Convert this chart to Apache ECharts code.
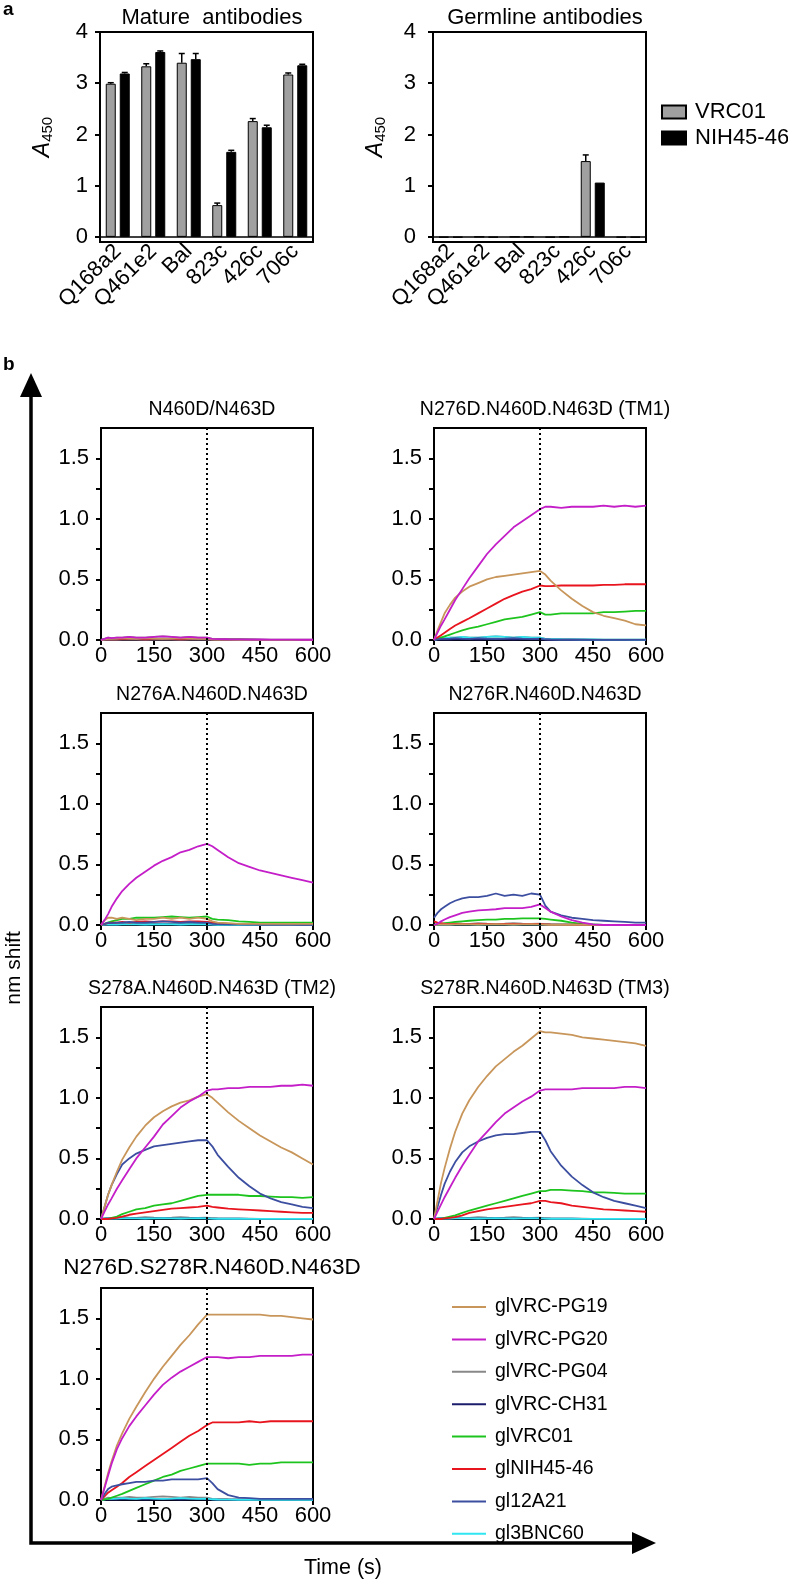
<!DOCTYPE html>
<html>
<head>
<meta charset="utf-8">
<script src="https://cdn.jsdelivr.net/npm/echarts@6/dist/echarts.min.js"></script>
<style>
html,body{margin:0;padding:0;background:#fff}
#chart{width:788px;height:1582px}
</style>
</head>
<body>
<div id="chart"></div>
<script>
// ---- panel a data ----
var SITES = ['Q168a2', 'Q461e2', 'Bal', '823c', '426c', '706c'];
var matureVRC01 = [2.99, 3.33, 3.40, 0.62, 2.26, 3.17];
var matureVRC01Err = [0.02, 0.05, 0.18, 0.04, 0.05, 0.03];
var matureNIH = [3.19, 3.61, 3.47, 1.66, 2.14, 3.35];
var matureNIHErr = [0.02, 0.02, 0.11, 0.03, 0.04, 0.02];
var germVRC01 = [-0.01, 0, 0, -0.01, 1.48, -0.01];
var germVRC01Err = [0, 0, 0, 0, 0.12, 0];
var germNIH = [-0.01, -0.01, 0, 0, 1.06, -0.01];
var germNIHErr = [0, 0, 0, 0, 0.01, 0];
var A_TICKS = [0, 1, 2, 3, 4];

// ---- panel b data ----
var TIMES = [0, 10, 20, 30, 45, 60, 80, 100, 125, 150, 175, 200, 225, 250, 275, 300, 315, 330, 360, 390, 420, 450, 480, 510, 540, 570, 600];
var LINE_NAMES = ['glVRC-PG19', 'glVRC-PG20', 'glVRC-PG04', 'glVRC-CH31', 'glVRC01', 'glNIH45-46', 'gl12A21', 'gl3BNC60'];
var LINE_COLORS = ['#c8965a', '#c41ec8', '#888888', '#1c1c6c', '#1ec41e', '#e8141e', '#3c4ea0', '#30e6f0'];
var PANEL_TITLES = ['N460D/N463D', 'N276D.N460D.N463D (TM1)', 'N276A.N460D.N463D', 'N276R.N460D.N463D',
  'S278A.N460D.N463D (TM2)', 'S278R.N460D.N463D (TM3)', 'N276D.S278R.N460D.N463D'];
var B_Y_LABELS = [0, 0.5, 1.0, 1.5];
var B_Y_TICKS = [0, 0.25, 0.5, 0.75, 1, 1.25, 1.5];

// near-baseline traces
var low1 = [0,0.01,0.02,0.015,0.02,0.02,0.025,0.02,0.02,0.025,0.03,0.025,0.02,0.025,0.02,0.02,0.01,0.008,0.006,0.005,0.004,0.004,0.003,0.003,0.003,0.002,0.002];
var low2 = [0,0.005,0.01,0.01,0.012,0.015,0.012,0.01,0.015,0.012,0.01,0.012,0.015,0.012,0.01,0.012,0.006,0.004,0.003,0.002,0.002,0.001,0.001,0.001,0.001,0.001,0.001];
var low3 = [0,0.003,0.004,0.005,0.004,0.005,0.006,0.005,0.004,0.005,0.006,0.005,0.004,0.005,0.006,0.005,0.003,0.002,0.002,0.002,0.001,0.001,0.001,0.001,0.001,0.001,0.001];

// N460D/N463D
var p1 = [low2, low1, low1, low3, low2, low3, low2, low3];
// TM1
var tm1PG19 = [0,0.08,0.15,0.22,0.29,0.35,0.40,0.44,0.47,0.50,0.52,0.53,0.54,0.55,0.56,0.57,0.54,0.49,0.41,0.34,0.28,0.23,0.20,0.18,0.16,0.13,0.12];
var tm1PG20 = [0,0.06,0.12,0.17,0.25,0.33,0.42,0.51,0.61,0.71,0.79,0.86,0.93,0.98,1.03,1.08,1.10,1.10,1.09,1.10,1.10,1.10,1.11,1.10,1.11,1.10,1.11];
var tm1VRC01 = [0,0.01,0.02,0.03,0.045,0.06,0.08,0.095,0.11,0.13,0.15,0.17,0.18,0.19,0.21,0.23,0.21,0.21,0.22,0.22,0.22,0.22,0.23,0.23,0.235,0.24,0.24];
var tm1NIH = [0,0.02,0.04,0.06,0.09,0.12,0.15,0.18,0.22,0.26,0.30,0.34,0.37,0.40,0.42,0.45,0.445,0.445,0.45,0.45,0.45,0.45,0.455,0.455,0.46,0.46,0.46];
var p2 = [tm1PG19, tm1PG20, low1, low3, tm1VRC01, tm1NIH, low2, low1];
// N276A
var aPG19 = [0,0.04,0.06,0.06,0.05,0.06,0.05,0.04,0.05,0.05,0.06,0.05,0.06,0.05,0.06,0.05,0.03,0.02,0.015,0.01,0.01,0.01,0.01,0.01,0.01,0.01,0.01];
var aPG20 = [0,0.04,0.09,0.15,0.22,0.28,0.34,0.39,0.44,0.49,0.53,0.56,0.60,0.62,0.65,0.67,0.65,0.62,0.56,0.51,0.48,0.45,0.43,0.41,0.39,0.37,0.35];
var aVRC01 = [0,0.01,0.02,0.03,0.04,0.05,0.05,0.06,0.06,0.06,0.065,0.07,0.065,0.06,0.065,0.07,0.05,0.045,0.04,0.03,0.025,0.02,0.02,0.02,0.02,0.02,0.02];
var aNIH = [0,0.01,0.015,0.02,0.02,0.025,0.02,0.025,0.03,0.025,0.03,0.03,0.025,0.03,0.03,0.025,0.02,0.015,0.01,0.01,0.01,0.005,0.005,0.005,0.005,0.005,0.005];
var p3 = [aPG19, aPG20, low2, low3, aVRC01, aNIH, low1, low3];
// N276R
var rPG20 = [0,0.01,0.03,0.045,0.065,0.08,0.10,0.11,0.12,0.125,0.13,0.14,0.14,0.14,0.15,0.17,0.14,0.11,0.07,0.04,0.02,0.005,0,0,0,0,0];
var rVRC01 = [0,0.005,0.01,0.015,0.02,0.025,0.03,0.035,0.04,0.045,0.045,0.05,0.05,0.055,0.055,0.055,0.05,0.045,0.035,0.02,0.01,0.005,0,0,0,0,0];
var rNIH = [0.03,0.02,0.015,0.01,0.01,0.01,0.01,0.008,0.01,0.01,0.008,0.01,0.01,0.008,0.01,0.01,0.005,0.004,0.003,0.002,0.002,0.001,0.001,0.001,0.001,0.001,0.001];
var r12A21 = [0.06,0.10,0.13,0.15,0.18,0.20,0.22,0.23,0.23,0.24,0.26,0.24,0.25,0.24,0.26,0.25,0.16,0.11,0.08,0.06,0.05,0.04,0.035,0.03,0.025,0.02,0.02];
var p4 = [low3, rPG20, low2, low3, rVRC01, rNIH, r12A21, low3];
// TM2
var tm2PG19 = [0,0.10,0.20,0.28,0.39,0.49,0.59,0.68,0.77,0.84,0.89,0.93,0.96,0.98,1.01,1.03,1.00,0.96,0.88,0.81,0.75,0.69,0.64,0.59,0.55,0.50,0.45];
var tm2PG20 = [0,0.06,0.12,0.17,0.25,0.32,0.41,0.50,0.59,0.68,0.78,0.85,0.92,0.97,1.01,1.06,1.07,1.07,1.08,1.08,1.09,1.09,1.09,1.10,1.10,1.11,1.10];
var tm2VRC01 = [0,0,0,0.01,0.02,0.04,0.06,0.08,0.09,0.11,0.12,0.13,0.15,0.17,0.19,0.20,0.20,0.20,0.20,0.20,0.19,0.19,0.185,0.18,0.18,0.175,0.18];
var tm2NIH = [0,0,0,0.005,0.01,0.02,0.035,0.045,0.055,0.065,0.075,0.085,0.09,0.095,0.10,0.11,0.10,0.095,0.085,0.08,0.075,0.07,0.065,0.06,0.055,0.05,0.05];
var tm212A21 = [0,0.10,0.20,0.28,0.37,0.45,0.50,0.54,0.57,0.60,0.61,0.62,0.63,0.64,0.65,0.65,0.60,0.53,0.43,0.34,0.27,0.21,0.17,0.14,0.12,0.10,0.09];
var p5 = [tm2PG19, tm2PG20, low2, low3, tm2VRC01, tm2NIH, tm212A21, low3];
// TM3
var tm3PG19 = [0,0.15,0.30,0.42,0.58,0.72,0.87,0.98,1.09,1.18,1.26,1.32,1.38,1.43,1.49,1.55,1.54,1.54,1.53,1.52,1.50,1.49,1.48,1.47,1.46,1.45,1.43];
var tm3PG20 = [0,0.06,0.12,0.18,0.26,0.34,0.44,0.53,0.64,0.72,0.80,0.87,0.92,0.97,1.01,1.06,1.07,1.07,1.07,1.07,1.08,1.08,1.08,1.08,1.09,1.09,1.08];
var tm3VRC01 = [0,0,0,0.01,0.02,0.03,0.05,0.07,0.09,0.11,0.13,0.15,0.17,0.19,0.21,0.23,0.23,0.24,0.24,0.235,0.23,0.22,0.22,0.215,0.21,0.21,0.21];
var tm3NIH = [0,0,0,0.005,0.01,0.015,0.03,0.05,0.065,0.08,0.09,0.10,0.11,0.12,0.13,0.15,0.15,0.14,0.13,0.11,0.10,0.09,0.08,0.075,0.07,0.065,0.06];
var tm312A21 = [0,0.10,0.20,0.29,0.39,0.47,0.55,0.60,0.64,0.67,0.69,0.70,0.70,0.71,0.72,0.72,0.65,0.56,0.44,0.35,0.28,0.22,0.18,0.15,0.13,0.11,0.09];
var p6 = [tm3PG19, tm3PG20, low2, low3, tm3VRC01, tm3NIH, tm312A21, low3];
// N276D.S278R
var qPG19 = [0,0.11,0.22,0.32,0.45,0.55,0.67,0.77,0.89,1.00,1.10,1.19,1.28,1.36,1.45,1.53,1.53,1.53,1.53,1.53,1.53,1.53,1.52,1.52,1.51,1.50,1.49];
var qPG20 = [0,0.10,0.20,0.30,0.42,0.51,0.61,0.69,0.78,0.87,0.95,1.01,1.06,1.10,1.14,1.18,1.18,1.18,1.17,1.18,1.18,1.19,1.19,1.19,1.19,1.20,1.20];
var qVRC01 = [0,0.005,0.01,0.02,0.035,0.05,0.075,0.10,0.13,0.16,0.19,0.21,0.24,0.26,0.28,0.30,0.30,0.30,0.30,0.30,0.29,0.30,0.30,0.31,0.31,0.31,0.31];
var qNIH = [0,0.03,0.06,0.08,0.11,0.14,0.19,0.23,0.28,0.33,0.38,0.43,0.48,0.53,0.57,0.62,0.64,0.64,0.64,0.64,0.65,0.64,0.65,0.65,0.65,0.65,0.65];
var q12A21 = [0,0.05,0.09,0.11,0.12,0.13,0.14,0.15,0.15,0.16,0.16,0.17,0.17,0.17,0.17,0.18,0.14,0.09,0.04,0.02,0.015,0.01,0.01,0.01,0.01,0.01,0.01];
var p7 = [qPG19, qPG20, low1, low3, qVRC01, qNIH, q12A21, low2];

var PANELS = [p1, p2, p3, p4, p5, p6, p7];

// ---- layout ----
var FONT = '"Liberation Sans", Arial, Helvetica, sans-serif';
var BAR_GRIDS = [[100, 32], [433, 32]];
var LINE_GRIDS = [[101, 428], [434, 428], [101, 713], [434, 713], [101, 1007], [434, 1007], [101, 1288]];
var TITLE_SIZES = [19.5, 19.5, 19.5, 19.5, 19.5, 19.5, 22.5];
var DRAW_ORDER = [2, 3, 7, 4, 5, 6, 0, 1];

var myChart = echarts.init(document.getElementById('chart'), null, {renderer: 'canvas'});

var grids = [], xAxes = [], yAxes = [], series = [], titles = [];
var black = {color: '#000', width: 2};

BAR_GRIDS.forEach(function (g, i) {
	grids.push({left: g[0], top: g[1], width: 213, height: 210, show: true, borderColor: '#000', borderWidth: 2});
	xAxes.push({
		gridIndex: i, type: 'category', data: SITES,
		axisLine: {onZero: false, lineStyle: black},
		axisTick: {alignWithLabel: true, length: 6, lineStyle: black},
		axisLabel: {interval: 0, rotate: 45, fontSize: 22, color: '#000', fontFamily: FONT, margin: 6}
	});
	yAxes.push({
		gridIndex: i, type: 'value', min: -0.1, max: 4,
		axisLine: {show: true, lineStyle: black},
		axisTick: {show: true, length: 5, lineStyle: black, customValues: A_TICKS},
		axisLabel: {customValues: A_TICKS, fontSize: 22, color: '#000', fontFamily: FONT, margin: i === 0 ? 12 : 17},
		splitLine: {show: false},
		name: '{i|A}{s|450}', nameLocation: 'middle', nameRotate: 90, nameGap: 45,
		nameTextStyle: {rich: {
			i: {fontSize: 23, fontStyle: 'italic', fontFamily: FONT, color: '#000'},
			s: {fontSize: 15, fontFamily: FONT, color: '#000', padding: [9, 0, 0, 0]}
		}}
	});
});

titles.push({text: 'Mature  antibodies', left: 207, top: 2, textAlign: 'center',
	textStyle: {fontSize: 22, fontWeight: 'normal', fontFamily: FONT, color: '#000'}});
titles.push({text: 'Germline antibodies', left: 540, top: 2, textAlign: 'center',
	textStyle: {fontSize: 22, fontWeight: 'normal', fontFamily: FONT, color: '#000'}});

function zeroLine() {
	return {silent: true, symbol: 'none', label: {show: false}, animation: false,
		lineStyle: {color: '#000', width: 1.5, type: 'solid'}, data: [{yAxis: 0}]};
}
function barSeries(name, gi, vals, color, withZero) {
	var s = {type: 'bar', name: name, xAxisIndex: gi, yAxisIndex: gi, data: vals,
		barWidth: 10, barGap: '40%', animation: false,
		itemStyle: {color: color, borderColor: '#000', borderWidth: 1}};
	if (withZero) s.markLine = zeroLine();
	return s;
}
function errorSeries(gi, vals, errs, offset) {
	return {
		type: 'custom', xAxisIndex: gi, yAxisIndex: gi, silent: true, animation: false, z: 5,
		data: vals.map(function (v, i) { return [i, v, v + errs[i]]; }),
		renderItem: function (params, api) {
			var base = api.coord([api.value(0), api.value(1)]);
			var top = api.coord([api.value(0), api.value(2)]);
			var x = base[0] + offset;
			if (Math.abs(top[1] - base[1]) < 1) return null;
			return {type: 'group', children: [
				{type: 'line', shape: {x1: x, y1: base[1], x2: x, y2: top[1]}, style: {stroke: '#000', lineWidth: 1.5}},
				{type: 'line', shape: {x1: x - 3, y1: top[1], x2: x + 3, y2: top[1]}, style: {stroke: '#000', lineWidth: 1.5}}
			]};
		}
	};
}

series.push(barSeries('VRC01', 0, matureVRC01, '#a0a0a0', true));
series.push(barSeries('NIH45-46', 0, matureNIH, '#000000', false));
series.push(errorSeries(0, matureVRC01, matureVRC01Err, -7));
series.push(errorSeries(0, matureNIH, matureNIHErr, 7));
series.push(barSeries('VRC01', 1, germVRC01, '#a0a0a0', true));
series.push(barSeries('NIH45-46', 1, germNIH, '#000000', false));
series.push(errorSeries(1, germVRC01, germVRC01Err, -7));
series.push(errorSeries(1, germNIH, germNIHErr, 7));

// ---- panel b grids ----
LINE_GRIDS.forEach(function (g, p) {
	var gi = p + 2;
	grids.push({left: g[0], top: g[1], width: 212, height: 212, show: true, borderColor: '#000', borderWidth: 2});
	xAxes.push({
		gridIndex: gi, type: 'value', min: 0, max: 600, interval: 150,
		axisLine: {lineStyle: black},
		axisTick: {length: 5, lineStyle: black},
		axisLabel: {fontSize: 22, color: '#000', fontFamily: FONT, margin: 5},
		splitLine: {show: false}
	});
	yAxes.push({
		gridIndex: gi, type: 'value', min: 0, max: 1.75,
		axisLine: {show: true, lineStyle: black},
		axisTick: {show: true, length: 5, lineStyle: black, customValues: B_Y_TICKS},
		axisLabel: {customValues: B_Y_LABELS, fontSize: 22, color: '#000', fontFamily: FONT, margin: 12,
			formatter: function (v) { return v.toFixed(1); }},
		splitLine: {show: false}
	});
	titles.push({text: PANEL_TITLES[p], left: g[0] + 106, top: g[1] - 14 - TITLE_SIZES[p], textAlign: 'center',
		textStyle: {fontSize: TITLE_SIZES[p], fontWeight: 'normal', fontFamily: FONT, color: '#000'}});

	DRAW_ORDER.forEach(function (k, j) {
		var s = {
			type: 'line', name: LINE_NAMES[k], xAxisIndex: gi, yAxisIndex: gi,
			data: TIMES.map(function (t, i) { return [t, PANELS[p][k][i]]; }),
			symbol: 'none', showSymbol: false, animation: false, silent: true,
			lineStyle: {width: 1.8, color: LINE_COLORS[k]}, itemStyle: {color: LINE_COLORS[k]}
		};
		if (j === 0) {
			s.markLine = {silent: true, symbol: 'none', label: {show: false}, animation: false,
				lineStyle: {color: '#000', width: 2, type: [2, 3]}, data: [{xAxis: 300}]};
		}
		series.push(s);
	});
});

var option = {
	backgroundColor: '#fff',
	animation: false,
	title: titles,
	grid: grids,
	xAxis: xAxes,
	yAxis: yAxes,
	legend: [
		{data: ['VRC01', 'NIH45-46'], left: 656, top: 96, orient: 'vertical', icon: 'rect',
			itemWidth: 24, itemHeight: 13, itemGap: 4,
			textStyle: {fontSize: 22, color: '#000', fontFamily: FONT, padding: [0, 0, 0, 4]}},
		{data: LINE_NAMES, left: 447, top: 1292, orient: 'vertical',
			icon: 'path://M0,0L34,0L34,2L0,2Z',
			itemWidth: 34, itemHeight: 20, itemGap: 12.4,
			textStyle: {fontSize: 19.5, color: '#000', fontFamily: FONT, padding: [0, 0, 0, 4]}}
	],
	graphic: [
		{type: 'text', left: 3, top: 0, style: {text: 'a', font: 'bold 19px ' + FONT, fill: '#000'}},
		{type: 'text', left: 3, top: 355, style: {text: 'b', font: 'bold 19px ' + FONT, fill: '#000'}},
		{type: 'polyline', shape: {points: [[31, 392], [31, 1543], [634, 1543]]}, style: {stroke: '#000', lineWidth: 3.5, fill: null}},
		{type: 'polygon', shape: {points: [[31, 373], [20, 397], [42, 397]]}, style: {fill: '#000'}},
		{type: 'polygon', shape: {points: [[656, 1543], [632, 1532], [632, 1554]]}, style: {fill: '#000'}},
		{type: 'text', x: 14, y: 968, rotation: Math.PI / 2,
			style: {text: 'nm shift', font: '21px ' + FONT, fill: '#000', textAlign: 'center', textVerticalAlign: 'middle'}},
		{type: 'text', x: 343, y: 1568,
			style: {text: 'Time (s)', font: '21.5px ' + FONT, fill: '#000', textAlign: 'center', textVerticalAlign: 'middle'}}
	],
	series: series
};

myChart.setOption(option);
</script>
</body>
</html>
